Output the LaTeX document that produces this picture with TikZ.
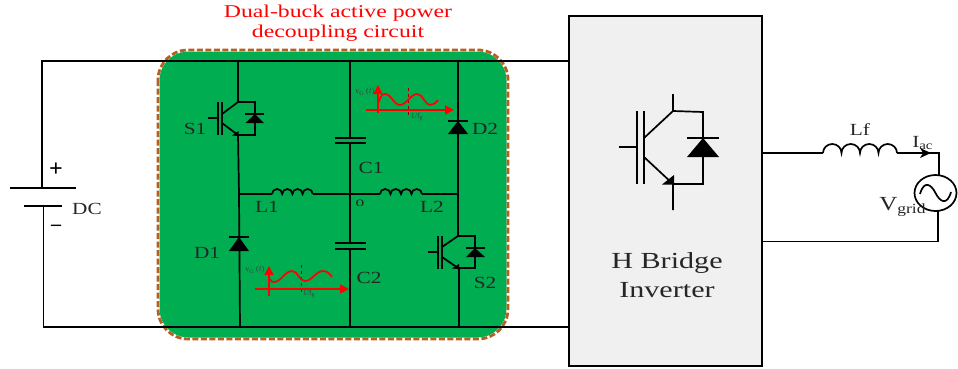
\documentclass[tikz,border=0pt]{standalone}
\usepackage{fontspec}
\setmainfont{Liberation Serif}
\usetikzlibrary{arrows.meta}
\definecolor{boxgreen}{RGB}{0,173,80}
\definecolor{boxbrown}{RGB}{181,96,30}
\definecolor{invgray}{RGB}{240,240,240}
\tikzset{
  wire/.style={line width=1.7pt,black},
  lab/.style={inner sep=0pt,font=\fontsize{17}{17}\selectfont,xscale=1.25,text=black!85},
  redwave/.style={line width=1.7pt,red},
  redarrow/.style={line width=1.7pt,red,-{Triangle[length=9pt,width=9pt]}},
  period/.style={line width=.4pt,red!60!black,dashed},
  tiny/.style={inner sep=0pt,font=\fontsize{8}{8}\selectfont,text=black!75},
  titletext/.style={inner sep=0pt,font=\fontsize{18}{18}\selectfont,xscale=1.32,text=red},
  invtext/.style={inner sep=0pt,font=\fontsize{23}{23}\selectfont,xscale=1.31,text=black!85},
  sign/.style={inner sep=0pt,font=\bfseries\fontsize{24}{24}\selectfont},
}
\begin{document}
\begin{tikzpicture}[x=1pt,y=-1pt]
\useasboundingbox (0,0) rectangle (958,368);
% green box
\draw[draw=white,fill=boxgreen,line width=3pt,rounded corners=30pt] (158,50) rectangle (508,339);
\draw[draw=boxbrown,line width=2.8pt,dash pattern=on 6pt off 2.5pt,rounded corners=30pt] (158,50) rectangle (508,339);
% inverter box
\node[draw=black,line width=1.6pt,fill=invgray,minimum width=193pt,minimum height=350pt,inner sep=0pt] (inv) at (665.5,191) {};
% rails
\coordinate (tl) at (42,61); \coordinate (bl) at (43.5,327);
\coordinate (tr) at (inv.west|-tl); \coordinate (br) at (inv.west|-bl);
\draw[wire] (tr) -- (tl) -- (42,188);
\draw[wire] (br) -- (bl) -- (43.5,206);
\draw[wire] (10,188) -- (76,188);
\draw[wire] (24,206) -- (62,206);
\node[sign] (plus) at (56,170) {+};
\node[sign,font=\bfseries\fontsize{20}{20}\selectfont] (minus) at (56,228) {–};
\node[lab] (dc) at (87,209) {DC};
% S1
\draw[wire] (238,61) -- (238,102) -- (255,102) -- (255,135) -- (238,135) -- (239,194);
\draw[wire] (208,118) -- (218,118);
\draw[wire] (218,102) -- (218,135) (222,102) -- (222,135);
\draw[wire] (222,114) -- (238,102) (222,123) -- (238,135);
\fill (232,135.5) -- (238.5,131) -- (238.5,136) -- cycle;
\fill (255,114) -- (245.5,123) -- (264,123) -- cycle;
\draw[wire] (245,114) -- (264,114);
\node[lab] (s1) at (195,129) {S1};
% D1
\draw[wire] (239,194) -- (240,327);
\fill (239,237) -- (229,251) -- (249,251) -- cycle;
\draw[wire] (229,237) -- (249,237);
\node[lab] (d1) at (207,253) {D1};
% L1
\draw[wire] (239,194) -- (272,194);
\draw[wire] (313,194) -- (350,194);
\draw[wire] (272,194) foreach \i in {0,...,3} {arc[start angle=180,end angle=0,x radius=5.1pt,y radius=5pt]};
\node[lab] (l1) at (267,207) {L1};
% center
\draw[wire] (350,61) -- (350,138) (350,143) -- (350,243) (350,249) -- (350,327);
\draw[wire] (335,138) -- (366,138) (335,143) -- (366,143);
\draw[wire] (335,243) -- (366,243) (335,249) -- (366,249);
\node[lab] (c1) at (371,168) {C1};
\node[lab] (c2) at (369,278) {C2};
\node[lab,font=\fontsize{14}{14}\selectfont] (o) at (360,203) {o};
% L2
\draw[wire] (350,194) -- (380,194);
\draw[wire] (422,194) -- (458,194);
\draw[wire] (380,194) foreach \i in {0,...,3} {arc[start angle=180,end angle=0,x radius=5.25pt,y radius=5pt]};
\node[lab] (l2) at (432,207) {L2};
% D2
\draw[wire] (458,61) -- (458,236) -- (475,236) -- (475,268) -- (459,268) -- (459,327);
\fill (458,121) -- (448,134) -- (468,134) -- cycle;
\draw[wire] (448,121) -- (468,121);
\node[lab] (d2) at (485,129) {D2};
% S2
\draw[wire] (428,252) -- (438,252);
\draw[wire] (438,236) -- (438,269) (442,236) -- (442,269);
\draw[wire] (442,247) -- (458,236) (442,257) -- (458,268);
\fill (452,268.5) -- (459,264) -- (459,269) -- cycle;
\fill (475,248) -- (466,257) -- (485,257) -- cycle;
\draw[wire] (466,248) -- (485,248);
\node[lab] (s2) at (485,283) {S2};
% wave 1
\draw[period] (408,88) -- (408,117);
\draw[redarrow] (366,110) -- (454,110);
\draw[redarrow] (378,113) -- (378,85);
\draw[redwave] (379,102) .. controls (381,94) and (383,94) .. (385,94) .. controls (391,94) and (394,105) .. (400,105) .. controls (406,105) and (411,94) .. (417,94) .. controls (423,94) and (425,105) .. (430,105) .. controls (433,105) and (436,103) .. (438,100);
\node[tiny] (v1) at (365,92) {v\textsubscript{G} ($t$)};
\node[tiny] (f1) at (417,117) {1/f\textsubscript{g}};
% wave 2
\draw[period] (301,265) -- (301,295);
\draw[redarrow] (255,289) -- (349,289);
\draw[redarrow] (269,296) -- (269,266);
\draw[redwave] (270,279) .. controls (271,282) and (272,282) .. (274,282) .. controls (281,282) and (285,271) .. (292,271) .. controls (298,271) and (299,281) .. (305,281) .. controls (312,281) and (316,271) .. (323,271) .. controls (327,271) and (330,274) .. (332,277);
\node[tiny] (v2) at (255,270) {v\textsubscript{G} ($t$)};
\node[tiny] (f2) at (309,294) {1/f\textsubscript{g}};
% title
\node[titletext] (t1) at (338,13) {Dual-buck active power};
\node[titletext] (t2) at (338,33) {decoupling circuit};
% big IGBT
\draw[wire] (619,147) -- (637,147);
\draw[wire] (637,111) -- (637,184) (644,111) -- (644,184);
\draw[wire] (644,138) -- (673,111) (644,157) -- (673,184);
\draw[wire] (673,94) -- (673,111) -- (703,112) -- (703,184) -- (673,184) -- (673,210);
\fill (662,184.5) -- (674,175) -- (674,184.5) -- cycle;
\fill (703,138) -- (687,157) -- (719,157) -- cycle;
\draw[wire] (687,138) -- (719,138);
\node[invtext] (hb) at (667,263) {H Bridge};
\node[invtext] (iv) at (667,290) {Inverter};
% AC side
\draw[wire] (inv.east|-0,153) -- (823,153);
\draw[wire] (823,153) foreach \i in {0,...,3} {arc[start angle=180,end angle=0,x radius=9.25pt,y radius=9pt]};
\draw[wire] (897,153) -- (939,153) -- (939,175);
\fill (931,153) -- (920,148) -- (923,153) -- (920,158) -- cycle;
\draw[wire] (935.5,193) ellipse[x radius=21pt,y radius=18pt];
\draw[wire] (920,194) .. controls (924,180) and (931,184) .. (935.5,193) .. controls (940,202) and (947,206) .. (951,192);
\draw[wire] (938,211) -- (938,241.5) -- (inv.east|-0,241.5);
\node[lab] (lf) at (860,130) {Lf};
\node[lab,anchor=west] (iac) at (912,143) {I\textsubscript{ac}};
\node[lab,anchor=west,font=\fontsize{20}{20}\selectfont] (vg) at (879,207) {V\textsubscript{grid}};
\end{tikzpicture}
\end{document}
